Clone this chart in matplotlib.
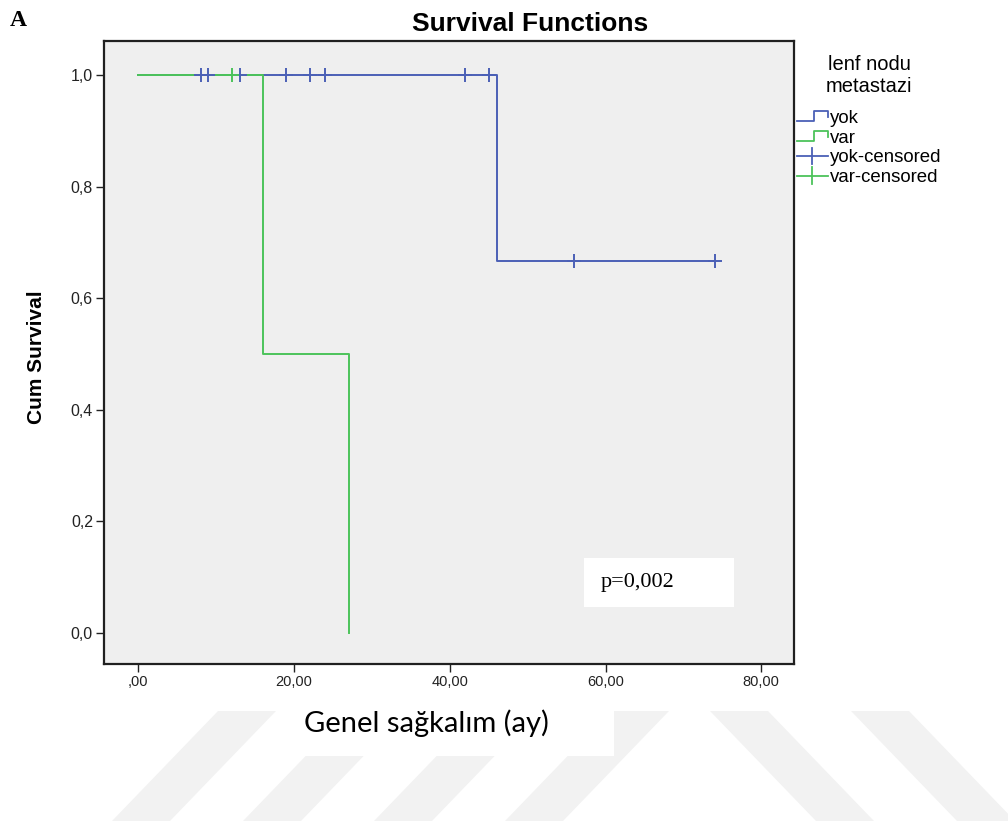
import matplotlib
matplotlib.use('Agg')
import matplotlib.pyplot as plt
from matplotlib.legend_handler import HandlerBase
from matplotlib.lines import Line2D
from matplotlib.patches import Rectangle, Polygon

# Kaplan-Meier steps
yok_time = [0, 46, 74]
yok_surv = [1.0, 0.667, 0.667]
var_time = [0, 16, 27]
var_surv = [1.0, 0.5, 0.0]

# censored observations
yok_cens_time = [8, 9, 13, 19, 22, 24, 42, 45, 56, 74]
yok_cens_surv = [1.0, 1.0, 1.0, 1.0, 1.0, 1.0, 1.0, 1.0, 0.667, 0.667]
var_cens_time = [12]
var_cens_surv = [1.0]

xticks = [0, 20, 40, 60, 80]
xticklabels = [',00', '20,00', '40,00', '60,00', '80,00']
yticks = [0.0, 0.2, 0.4, 0.6, 0.8, 1.0]
yticklabels = ['0,0', '0,2', '0,4', '0,6', '0,8', '1,0']

blue = '#4b60b6'
green = '#4cc35a'

W, H = 1008, 821


class StepHandler(HandlerBase):
    def create_artists(self, legend, orig_handle, xdescent, ydescent,
                       width, height, fontsize, trans):
        x0, y0 = -xdescent, -ydescent
        xs = [x0, x0 + 0.55 * width, x0 + 0.55 * width, x0 + width, x0 + width]
        ys = [y0 + 0.1 * height, y0 + 0.1 * height, y0 + 0.95 * height,
              y0 + 0.95 * height, y0 + 0.45 * height]
        line = Line2D(xs, ys, color=orig_handle.get_color(),
                      lw=orig_handle.get_linewidth(), transform=trans)
        return [line]


class PlusHandler(HandlerBase):
    def create_artists(self, legend, orig_handle, xdescent, ydescent,
                       width, height, fontsize, trans):
        x0, y0 = -xdescent, -ydescent
        h = Line2D([x0, x0 + width], [y0 + height / 2] * 2,
                   color=orig_handle.get_color(), lw=1.3, transform=trans)
        v = Line2D([x0 + width / 2] * 2, [y0 - 0.2 * height, y0 + 1.2 * height],
                   color=orig_handle.get_color(), lw=1.3, transform=trans)
        return [h, v]


fig = plt.figure(figsize=(W / 100, H / 100), dpi=100)
fig.patch.set_facecolor('white')


# watermark stripes (background decoration)
def px(x, y):
    return (x / W, 1 - y / H)


for k in range(4):
    xt = 218 + 131 * k
    pts = [px(xt, 711), px(xt + 58, 711), px(xt + 58 - 106, 821), px(xt - 106, 821)]
    fig.patches.append(Polygon(pts, closed=True, transform=fig.transFigure,
                               facecolor='#f2f2f2', edgecolor='none', zorder=0))
for xt in [710, 851]:
    pts = [px(xt, 711), px(xt + 58, 711), px(xt + 58 + 106, 821), px(xt + 106, 821)]
    fig.patches.append(Polygon(pts, closed=True, transform=fig.transFigure,
                               facecolor='#f2f2f2', edgecolor='none', zorder=0))
fig.patches.append(Rectangle(px(292, 756), (614 - 292) / W, 45 / H,
                             transform=fig.transFigure, facecolor='white',
                             edgecolor='none', zorder=1))

ax = fig.add_axes([104 / W, 1 - 664 / H, 690 / W, 623 / H])
ax.set_facecolor('#efefef')

ax.step(yok_time, yok_surv, where='post', color=blue, lw=1.4, zorder=3)
ax.step(var_time, var_surv, where='post', color=green, lw=1.4, zorder=4)
ax.plot(yok_cens_time, yok_cens_surv, ls='none', marker='+', ms=10, mew=1.4,
        color=blue, zorder=5)
ax.plot(var_cens_time, var_cens_surv, ls='none', marker='+', ms=10, mew=1.4,
        color=green, zorder=5)

ax.set_xlim(-4.4, 84.2)
ax.set_ylim(-0.0556, 1.061)
ax.set_xticks(xticks)
ax.set_xticklabels(xticklabels)
ax.set_yticks(yticks)
ax.set_yticklabels(yticklabels)
ax.tick_params(direction='out', length=6, width=1, colors='#222222',
               labelcolor='#222222', pad=2)
ax.tick_params(axis='x', labelsize=10.5)
ax.tick_params(axis='y', labelsize=11.5)
for lab in ax.get_xticklabels() + ax.get_yticklabels():
    lab.set_fontfamily('Liberation Sans')
for sp in ax.spines.values():
    sp.set_linewidth(1.6)
    sp.set_color('#202020')

fig.text(37 / W, 1 - 357 / H, 'Cum Survival', fontsize=15, fontweight='bold',
         family='Liberation Sans', rotation=90, ha='center', va='center')

# p-value box
ax.add_patch(Rectangle((0.696, 0.0915), 0.217, 0.0785, transform=ax.transAxes,
                       facecolor='white', edgecolor='none', zorder=6))
ax.text(0.72, 0.131, 'p=0,002', transform=ax.transAxes, fontsize=16,
        family='Liberation Serif', va='center', ha='left', zorder=7)

fig.text(530 / W, 1 - 24 / H, 'Survival Functions', fontsize=19,
         fontweight='bold', family='Liberation Sans', ha='center', va='center')
fig.text(10 / W, 1 - 21 / H, 'A', fontsize=17, fontweight='bold',
         family='Liberation Serif', ha='left', va='center')
fig.text(426 / W, 1 - 723 / H, 'Genel sağkalım (ay)', fontsize=21,
         family='Lato', ha='center', va='center', zorder=3)

handles = [Line2D([], [], color=blue, lw=1.3),
           Line2D([], [], color=green, lw=1.3),
           Line2D([], [], color=blue, lw=1.3),
           Line2D([], [], color=green, lw=1.3)]
labels = ['yok', 'var', 'yok-censored', 'var-censored']

leg = fig.legend(handles, labels, loc='upper left',
                 bbox_to_anchor=(797 / W, 1 - 55 / H), frameon=False,
                 title='lenf nodu\nmetastazi', alignment='center',
                 handler_map={handles[0]: StepHandler(), handles[1]: StepHandler(),
                              handles[2]: PlusHandler(), handles[3]: PlusHandler()},
                 prop={'family': 'Liberation Sans', 'size': 13.4},
                 title_fontproperties={'family': 'Liberation Sans', 'size': 14.5},
                 handlelength=1.65, handleheight=0.6, handletextpad=0.1,
                 labelspacing=0.15, borderpad=0, borderaxespad=0)
leg.get_title().set_multialignment('center')
leg._legend_box.sep = 10

fig.savefig('out.png', dpi=100)
